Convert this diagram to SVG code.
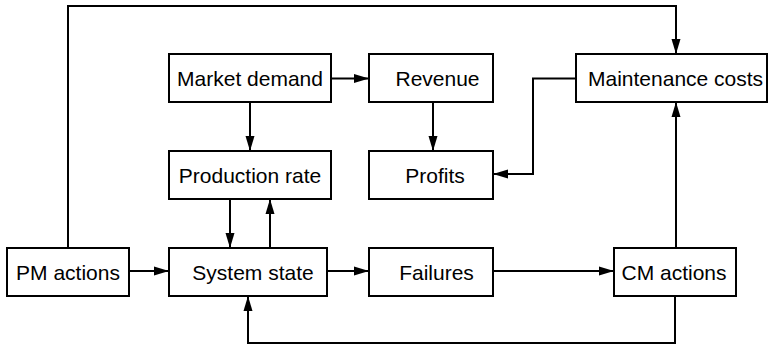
<svg xmlns="http://www.w3.org/2000/svg" width="768" height="345" viewBox="0 0 768 345">
  <style>
    .box { fill: #fff; stroke: #000; stroke-width: 2; }
    .lbl { font-family: "Liberation Sans", Arial, sans-serif; font-size: 21px; fill: #000; }
    .mid { text-anchor: middle; }
    .wire { fill: none; stroke: #000; stroke-width: 2; }
  </style>
  <defs>
    <marker id="arr" viewBox="0 0 15 10" refX="15" refY="5" markerWidth="15" markerHeight="10" markerUnits="userSpaceOnUse" orient="auto">
      <path d="M0,0.5 L15,5 L0,9.5 Z" fill="#000"/>
    </marker>
  </defs>

  <g id="connectors">
    <!-- PM actions up and over to maintenance costs -->
    <path class="wire" d="M68,248 V6 H676 V54" marker-end="url(#arr)"/>
    <!-- Market demand to revenue -->
    <path class="wire" d="M331,78.5 H369" marker-end="url(#arr)"/>
    <!-- Market demand to production rate -->
    <path class="wire" d="M250,102 V151" marker-end="url(#arr)"/>
    <!-- Revenue to profits -->
    <path class="wire" d="M433,102 V151" marker-end="url(#arr)"/>
    <!-- Maintenance costs to profits -->
    <path class="wire" d="M576,78.5 H533 V174 H493" marker-end="url(#arr)"/>
    <!-- Production rate to system state -->
    <path class="wire" d="M230,199 V248" marker-end="url(#arr)"/>
    <!-- System state to production rate -->
    <path class="wire" d="M270,248 V199" marker-end="url(#arr)"/>
    <!-- PM actions to system state -->
    <path class="wire" d="M129,271 H169" marker-end="url(#arr)"/>
    <!-- System state to failures -->
    <path class="wire" d="M327,271 H369" marker-end="url(#arr)"/>
    <!-- Failures to CM actions -->
    <path class="wire" d="M493,271 H614" marker-end="url(#arr)"/>
    <!-- CM actions to maintenance costs -->
    <path class="wire" d="M676,248 V102" marker-end="url(#arr)"/>
    <!-- CM actions back to system state -->
    <path class="wire" d="M675,296 V343 H248 V296" marker-end="url(#arr)"/>
  </g>

  <g id="market-demand">
    <rect class="box" x="169" y="54" width="162" height="48"/>
    <text class="lbl mid" x="250" y="85.5">Market demand</text>
  </g>
  <g id="revenue">
    <rect class="box" x="369" y="54" width="124" height="48"/>
    <text class="lbl mid" x="437.5" y="85.5">Revenue</text>
  </g>
  <g id="maintenance-costs">
    <rect class="box" x="576" y="54" width="191" height="48"/>
    <text class="lbl" x="588" y="85.5">Maintenance costs</text>
  </g>
  <g id="production-rate">
    <rect class="box" x="169" y="151" width="162" height="48"/>
    <text class="lbl mid" x="250" y="182.5">Production rate</text>
  </g>
  <g id="profits">
    <rect class="box" x="369" y="151" width="124" height="48"/>
    <text class="lbl mid" x="435" y="182.5">Profits</text>
  </g>
  <g id="pm-actions">
    <rect class="box" x="7" y="248" width="122" height="48"/>
    <text class="lbl mid" x="68" y="279.5">PM actions</text>
  </g>
  <g id="system-state">
    <rect class="box" x="169" y="248" width="158" height="48"/>
    <text class="lbl mid" x="253" y="279.5">System state</text>
  </g>
  <g id="failures">
    <rect class="box" x="369" y="248" width="124" height="48"/>
    <text class="lbl mid" x="436.5" y="279.5">Failures</text>
  </g>
  <g id="cm-actions">
    <rect class="box" x="614" y="248" width="122" height="48"/>
    <text class="lbl mid" x="674" y="279.5">CM actions</text>
  </g>
</svg>
